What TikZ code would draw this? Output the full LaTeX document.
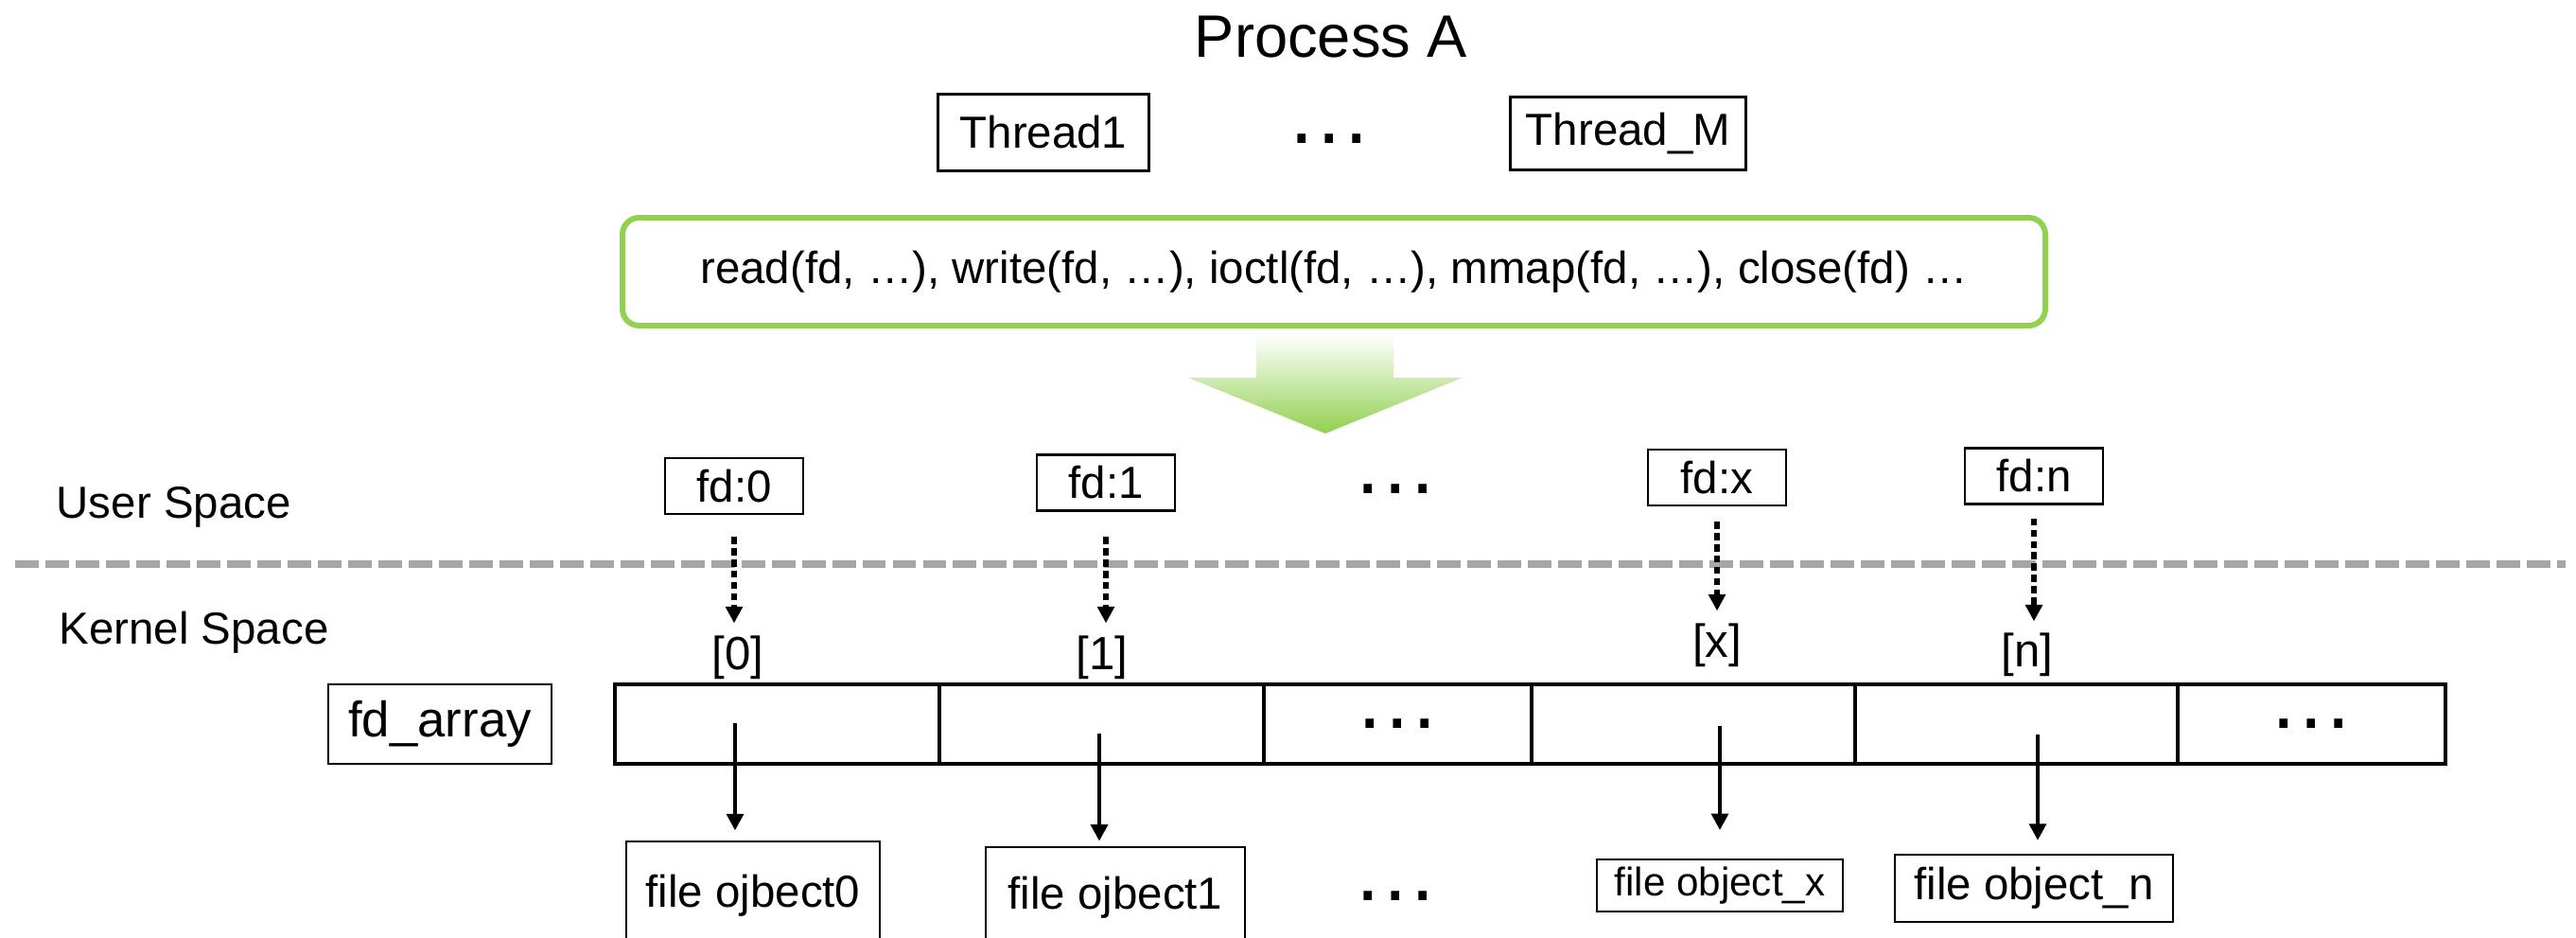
\documentclass[tikz,border=0pt]{standalone}
\usepackage{fontspec}
\setmainfont{Liberation Sans}
\usetikzlibrary{arrows.meta, calc}
\definecolor{callgreen}{RGB}{146,208,80}
\definecolor{sepgray}{RGB}{166,166,166}

\begin{document}
\begin{tikzpicture}[line join=miter,
    txt/.style={font=\fontsize{13.5}{16}\selectfont},
    box/.style={txt, draw, line width=0.6pt, inner sep=0pt},
    cell/.style={draw, line width=0.9pt, minimum height=0.84cm, inner sep=0pt, font=\fontsize{26}{26}\selectfont},
    dots/.style={font=\fontsize{26}{26}\selectfont, inner sep=0pt},
    ptr/.style={line width=1.5pt, dash pattern=on 2.2pt off 1.2pt, -{Triangle[length=5pt,width=5pt]}},
    ref/.style={line width=1.3pt, -{Triangle[length=5pt,width=5pt]}}]
      \useasboundingbox (0,0) rectangle (27.23,-9.90);
      \clip (0,0) rectangle (27.23,-9.90);
      \node[anchor=base, font=\fontsize{18}{20}\selectfont] (proc) at (14.07,-0.60) {Process A};
      \node[box, minimum width=2.23cm, minimum height=0.81cm] (th1) at (11.03,-1.40) {Thread1};
      \node[dots, anchor=base] (thdots) at (14.05,-1.51) {…};
      \node[box, minimum width=2.49cm, minimum height=0.77cm] (thM) at (17.21,-1.41) {Thread\_M};
      \node[txt, draw=callgreen, line width=1.7pt, rounded corners=5pt, minimum width=15.04cm, minimum height=1.14cm] (ops) at (14.10,-2.87)
        {read(fd, …), write(fd, …), ioctl(fd, …), mmap(fd, …), close(fd) …};
      \shade[top color=white, bottom color=callgreen] (13.28,-3.53) -- (14.73,-3.53) -- (14.73,-3.99) -- (15.46,-3.99)
        -- (14.01,-4.58) -- (12.56,-3.99) -- (13.28,-3.99) -- cycle;
      \node[txt, anchor=base west, inner sep=0pt] (user) at (0.59,-5.47) {User Space};
      \node[txt, anchor=base west, inner sep=0pt] (kern) at (0.62,-6.80) {Kernel Space};
      \draw[sepgray, line width=2.3pt, dash pattern=on 7.1pt off 2pt] (0.16,-5.96) -- (27.12,-5.96);
      \node[box, minimum width=1.46cm, minimum height=0.59cm] (fd0) at (7.76,-5.135) {fd:0};
      \node[box, minimum width=1.46cm, minimum height=0.59cm] (fd1) at (11.69,-5.10) {fd:1};
      \node[dots, anchor=base] (fddots) at (14.75,-5.21) {…};
      \node[box, minimum width=1.46cm, minimum height=0.59cm] (fdx) at (18.15,-5.045) {fd:x};
      \node[box, minimum width=1.46cm, minimum height=0.59cm] (fdn) at (21.50,-5.03) {fd:n};
      \node[font=\fontsize{14}{16}\selectfont, inner sep=0pt] (idx0) at (7.80,-6.95) {[0]};
      \node[font=\fontsize{14}{16}\selectfont, inner sep=0pt] (idx1) at (11.65,-6.95) {[1]};
      \node[font=\fontsize{14}{16}\selectfont, inner sep=0pt] (idxx) at (18.15,-6.82) {[x]};
      \node[font=\fontsize{14}{16}\selectfont, inner sep=0pt] (idxn) at (21.43,-6.92) {[n]};
      \draw[ptr, shorten <=6.5pt, shorten >=3.7pt] (fd0.south) -- (fd0.south |- idx0.north);
      \draw[ptr, shorten <=7.5pt, shorten >=3.7pt] (fd1.south) -- (fd1.south |- idx1.north);
      \draw[ptr, shorten <=4.5pt, shorten >=3.7pt] (fdx.south) -- (fdx.south |- idxx.north);
      \draw[ptr, shorten <=4pt, shorten >=3.4pt] (fdn.south) -- (fdn.south |- idxn.north);
      \node[box, font=\fontsize{15}{18}\selectfont, minimum width=2.36cm, minimum height=0.84cm] (fdarr) at (4.65,-7.65) {fd\_array};
      \node[cell, minimum width=3.43cm] (c0) at (8.215,-7.65) {};
      \node[cell, minimum width=3.43cm] (c1) at (11.645,-7.65) {};
      \node[cell, minimum width=2.83cm] (c2) at (14.775,-7.65) {…};
      \node[cell, minimum width=3.42cm] (c3) at (17.90,-7.65) {};
      \node[cell, minimum width=3.41cm] (c4) at (21.315,-7.65) {};
      \node[cell, minimum width=2.83cm] (c5) at (24.435,-7.65) {…};
      \coordinate (p0) at (7.77,-7.64);
      \coordinate (p1) at (11.62,-7.75);
      \coordinate (px) at (18.18,-7.67);
      \coordinate (pn) at (21.54,-7.76);
      \node[box, minimum width=2.68cm, minimum height=1.14cm] (obj0) at (7.96,-9.46) {file ojbect0};
      \node[box, minimum width=2.74cm, minimum height=1.06cm] (obj1) at (11.79,-9.48) {file ojbect1};
      \node[dots, anchor=base] (objdots) at (14.75,-9.51) {…};
      \node[box, font=\fontsize{12}{14}\selectfont, minimum width=2.60cm, minimum height=0.55cm] (objx) at (18.18,-9.355) {file object\_x};
      \node[box, minimum width=2.94cm, minimum height=0.71cm] (objn) at (21.50,-9.385) {file object\_n};
      \draw[ref, shorten >=3pt] (p0) -- (p0 |- obj0.north);
      \draw[ref, shorten >=1.5pt] (p1) -- (p1 |- obj1.north);
      \draw[ref, shorten >=8.5pt] (px) -- (px |- objx.north);
      \draw[ref, shorten >=4pt] (pn) -- (pn |- objn.north);
    \end{tikzpicture}
\end{document}
